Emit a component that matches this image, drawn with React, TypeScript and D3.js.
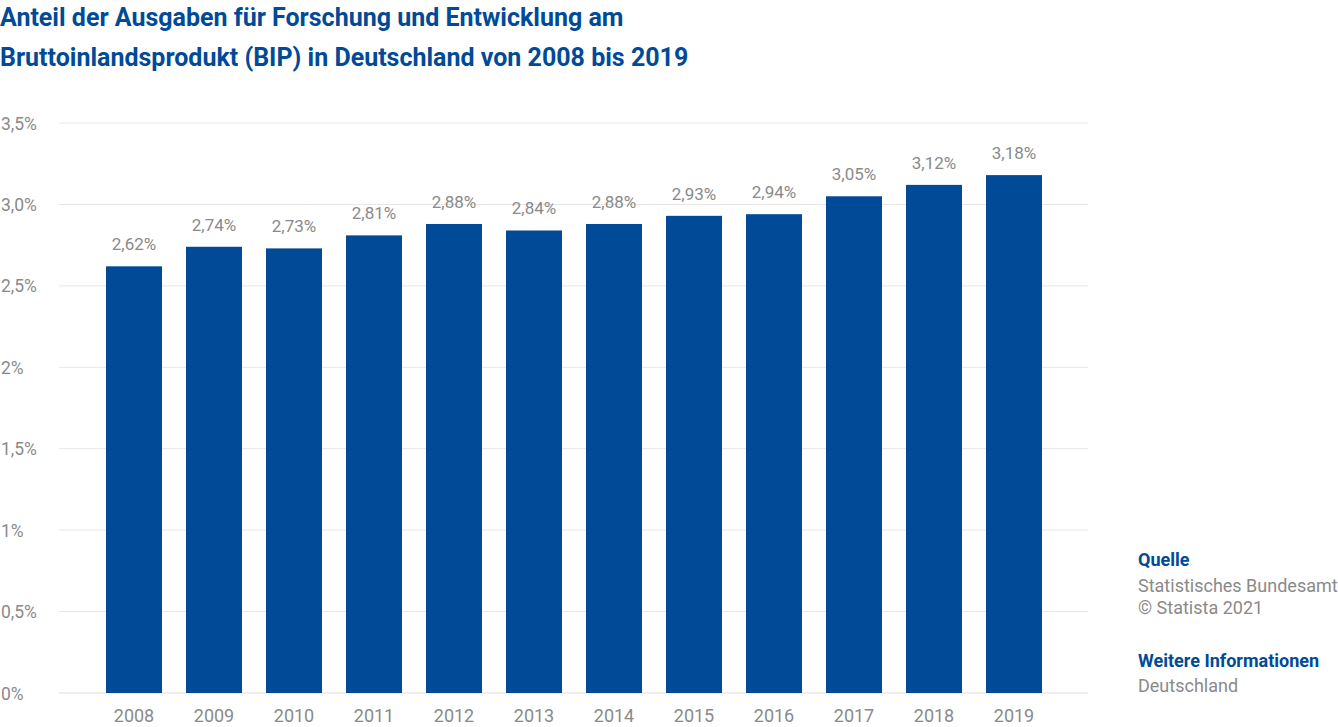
import React from "react";
import * as d3 from "d3";

const years = ["2008","2009","2010","2011","2012","2013","2014","2015","2016","2017","2018","2019"];
const values = [2.62, 2.74, 2.73, 2.81, 2.88, 2.84, 2.88, 2.93, 2.94, 3.05, 3.12, 3.18];
const yTicks = [0, 0.5, 1, 1.5, 2, 2.5, 3, 3.5];
const yTickLabels = ["0%", "0,5%", "1%", "1,5%", "2%", "2,5%", "3,0%", "3,5%"];
const titleLines = [
  "Anteil der Ausgaben für Forschung und Entwicklung am",
  "Bruttoinlandsprodukt (BIP) in Deutschland von 2008 bis 2019",
];

const W = 1338, H = 727;
const BLUE = "#004a97";
const GRAY = "#8a8a8a";
const FONT = "Roboto, 'Noto Sans', sans-serif";

export default function App() {
  const x = d3.scaleBand<string>().domain(years).range([60, 1088]).paddingInner(0.3).paddingOuter(0.575);
  const y = d3.scaleLinear().domain([0, 3.5]).range([693, 123]);
  const fmt = (v: number) => v.toFixed(2).replace(".", ",") + "%";
  return (
    <svg width={W} height={H} style={{ position: "absolute", left: 0, top: 0, background: "#fff" }} fontFamily={FONT}>
      {titleLines.map((t, i) => (
        <text key={i} x={0} y={26 + i * 40} fontSize={25} fontWeight={700} fill={BLUE}>{t}</text>
      ))}
      {yTicks.map((t, i) => (
        <g key={t}>
          <line x1={59} x2={1088} y1={y(t)} y2={y(t)} stroke={t === 0 ? "#dcdde3" : "#e6e6e6"} strokeWidth={1} />
          <text x={1} y={y(t) + 6.5} fontSize={17.5} fill={GRAY}>{yTickLabels[i]}</text>
        </g>
      ))}
      {years.map((yr, i) => (
        <g key={yr}>
          <rect x={x(yr)} y={y(values[i])} width={x.bandwidth()} height={y(0) - y(values[i])} fill={BLUE} />
          <text x={x(yr)! + x.bandwidth() / 2} y={y(values[i]) - 16} textAnchor="middle" fontSize={17} fill={GRAY}>{fmt(values[i])}</text>
          <text x={x(yr)! + x.bandwidth() / 2} y={722} textAnchor="middle" fontSize={18} fill={GRAY}>{yr}</text>
        </g>
      ))}
      <text x={1138} y={566} fontSize={18} fontWeight={700} fill={BLUE}>Quelle</text>
      <text x={1138} y={592} fontSize={18} fill={GRAY}>Statistisches Bundesamt</text>
      <text x={1138} y={614} fontSize={18} fill={GRAY}>© Statista 2021</text>
      <text x={1138} y={667} fontSize={18} fontWeight={700} fill={BLUE}>Weitere Informationen</text>
      <text x={1138} y={692} fontSize={18} fill={GRAY}>Deutschland</text>
    </svg>
  );
}
